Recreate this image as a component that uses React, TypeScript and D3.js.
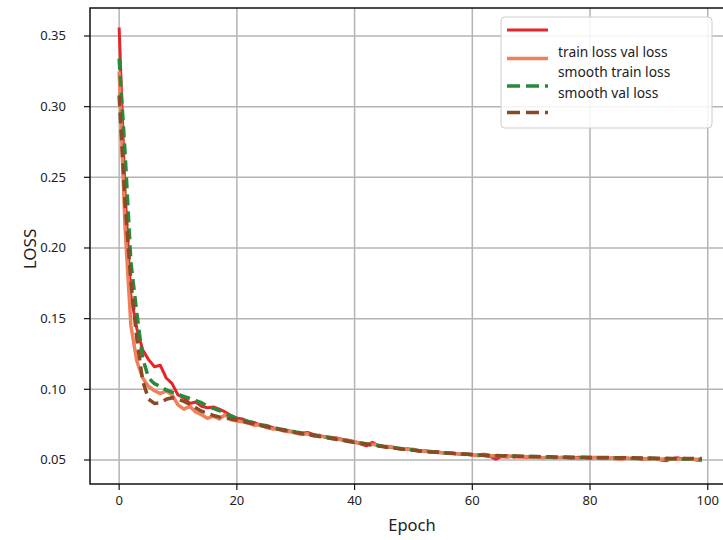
import React from "react";
import * as d3 from "d3";

const trainLoss = [
  0.356, 0.240, 0.166, 0.143, 0.128, 0.121, 0.116, 0.117, 0.108, 0.104,
  0.096, 0.094, 0.090, 0.091, 0.088, 0.087, 0.0875, 0.086, 0.084, 0.0815,
  0.0795, 0.0790, 0.0770, 0.0765, 0.0745, 0.0745, 0.0730, 0.0715, 0.0715, 0.0705,
  0.0695, 0.0690, 0.0695, 0.0680, 0.0670, 0.0665, 0.0660, 0.0655, 0.0645, 0.0640,
  0.0625, 0.0615, 0.0600, 0.0625, 0.0600, 0.0595, 0.0590, 0.0585, 0.0575, 0.0580,
  0.0570, 0.0565, 0.0565, 0.0555, 0.0560, 0.0550, 0.0550, 0.0545, 0.0540, 0.0540,
  0.0535, 0.0535, 0.0530, 0.0525, 0.0505, 0.0525, 0.0530, 0.0520, 0.0525, 0.0520,
  0.0520, 0.0525, 0.0515, 0.0520, 0.0515, 0.0520, 0.0515, 0.0510, 0.0520, 0.0515,
  0.0510, 0.0520, 0.0515, 0.0510, 0.0515, 0.0505, 0.0515, 0.0510, 0.0510, 0.0505,
  0.0515, 0.0510, 0.0500, 0.0495, 0.0510, 0.0515, 0.0505, 0.0510, 0.0500, 0.0495,
];

const valLoss = [
  0.325, 0.215, 0.145, 0.120, 0.108, 0.102, 0.099, 0.097, 0.099, 0.096,
  0.089, 0.086, 0.088, 0.084, 0.082, 0.0795, 0.081, 0.079, 0.082, 0.0785,
  0.0775, 0.0770, 0.0760, 0.0745, 0.0750, 0.0730, 0.0720, 0.0720, 0.0705, 0.0700,
  0.0690, 0.0680, 0.0685, 0.0670, 0.0675, 0.0660, 0.0655, 0.0650, 0.0640, 0.0635,
  0.0630, 0.0620, 0.0615, 0.0610, 0.0605, 0.0595, 0.0595, 0.0585, 0.0580, 0.0575,
  0.0575, 0.0565, 0.0560, 0.0560, 0.0555, 0.0550, 0.0550, 0.0545, 0.0540, 0.0545,
  0.0535, 0.0530, 0.0540, 0.0530, 0.0530, 0.0525, 0.0520, 0.0530, 0.0520, 0.0525,
  0.0520, 0.0520, 0.0515, 0.0520, 0.0515, 0.0515, 0.0520, 0.0515, 0.0510, 0.0515,
  0.0520, 0.0515, 0.0510, 0.0515, 0.0510, 0.0505, 0.0510, 0.0510, 0.0515, 0.0510,
  0.0505, 0.0510, 0.0505, 0.0510, 0.0505, 0.0505, 0.0510, 0.0505, 0.0505, 0.0500,
];

const smoothTrainLoss = [
  0.334, 0.268, 0.190, 0.154, 0.122, 0.108, 0.104, 0.102, 0.0995, 0.098,
  0.0965, 0.095, 0.0935, 0.092, 0.0905, 0.088, 0.0865, 0.085, 0.083, 0.081,
  0.0795, 0.0784, 0.0772, 0.0761, 0.0750, 0.0740, 0.0731, 0.0722, 0.0714, 0.0706,
  0.0698, 0.0691, 0.0684, 0.0677, 0.0670, 0.0663, 0.0656, 0.0649, 0.0642, 0.0635,
  0.0628, 0.0621, 0.0614, 0.0608, 0.0602, 0.0596, 0.0590, 0.0585, 0.0580, 0.0575,
  0.0570, 0.0566, 0.0562, 0.0558, 0.0555, 0.0552, 0.0549, 0.0546, 0.0543, 0.0540,
  0.0538, 0.0536, 0.0534, 0.0532, 0.0530, 0.0529, 0.0528, 0.0527, 0.0526, 0.0525,
  0.0524, 0.0523, 0.0522, 0.0521, 0.0520, 0.0520, 0.0519, 0.0518, 0.0518, 0.0517,
  0.0516, 0.0516, 0.0515, 0.0514, 0.0514, 0.0513, 0.0513, 0.0512, 0.0511, 0.0511,
  0.0510, 0.0510, 0.0509, 0.0509, 0.0508, 0.0508, 0.0507, 0.0507, 0.0506, 0.0506,
];

const smoothValLoss = [
  0.308, 0.232, 0.176, 0.136, 0.106, 0.093, 0.090, 0.0905, 0.093, 0.094,
  0.093, 0.0915, 0.0895, 0.087, 0.0845, 0.083, 0.0815, 0.0805, 0.0798, 0.079,
  0.0782, 0.0773, 0.0763, 0.0753, 0.0744, 0.0735, 0.0726, 0.0718, 0.0710, 0.0702,
  0.0694, 0.0687, 0.0680, 0.0673, 0.0666, 0.0659, 0.0652, 0.0645, 0.0638, 0.0631,
  0.0624, 0.0617, 0.0611, 0.0605, 0.0599, 0.0593, 0.0587, 0.0582, 0.0577, 0.0572,
  0.0568, 0.0564, 0.0560, 0.0557, 0.0554, 0.0551, 0.0548, 0.0545, 0.0542, 0.0540,
  0.0538, 0.0536, 0.0534, 0.0532, 0.0531, 0.0530, 0.0529, 0.0528, 0.0527, 0.0526,
  0.0525, 0.0524, 0.0523, 0.0522, 0.0521, 0.0521, 0.0520, 0.0520, 0.0519, 0.0519,
  0.0518, 0.0518, 0.0517, 0.0517, 0.0516, 0.0516, 0.0515, 0.0515, 0.0514, 0.0514,
  0.0513, 0.0513, 0.0512, 0.0512, 0.0511, 0.0511, 0.0511, 0.0510, 0.0510, 0.0510,
];

const xTicks = [0, 20, 40, 60, 80, 100];
const yTicks = [0.05, 0.1, 0.15, 0.2, 0.25, 0.3, 0.35];
const legendLabels = ["train loss val loss", "smooth train loss", "smooth val loss"];

const W = 723;
const H = 540;
const FONT = "'Noto Sans', 'DejaVu Sans', sans-serif";

export default function App() {
  const left = 90, top = 8, bottom = 484, right = 731;
  const x = d3.scaleLinear().domain([-4.95, 103.95]).range([left, right]);
  const y = d3.scaleLinear().domain([0.033, 0.3698]).range([bottom, top]);

  const mk = (arr: number[]) =>
    d3.line<number>().x((_, i) => x(i)).y((d) => y(d))(arr) || "";

  const series = [
    { data: trainLoss, color: "#e3262a", width: 3, dash: undefined },
    { data: valLoss, color: "#f0805c", width: 3.5, dash: undefined },
    { data: smoothTrainLoss, color: "#2a8a3c", width: 3.5, dash: "11,6" },
    { data: smoothValLoss, color: "#8b4a26", width: 3.5, dash: "11,6" },
  ];

  const legendHandleY = [30, 58.5, 86, 112.5];
  const legendTextY = [57, 77, 98];

  return (
    <svg
      width={W}
      height={H}
      style={{ position: "absolute", left: 0, top: 0, background: "#fff" }}
      fontFamily={FONT}
    >
      <defs>
        <clipPath id="plotclip">
          <rect x={left} y={top} width={right - left} height={bottom - top} />
        </clipPath>
      </defs>
      <rect x={0} y={0} width={W} height={H} fill="#fff" />
      {xTicks.map((t) => (
        <line key={"gx" + t} x1={x(t)} x2={x(t)} y1={top} y2={bottom} stroke="#b4b4b4" strokeWidth={1.5} />
      ))}
      {yTicks.map((t) => (
        <line key={"gy" + t} x1={left} x2={right} y1={y(t)} y2={y(t)} stroke="#b4b4b4" strokeWidth={1.5} />
      ))}
      <g clipPath="url(#plotclip)">
        {series.map((s, i) => (
          <path
            key={i}
            d={mk(s.data)}
            fill="none"
            stroke={s.color}
            strokeWidth={s.width}
            strokeDasharray={s.dash}
            strokeLinejoin="round"
          />
        ))}
      </g>
      <rect x={left} y={top} width={right - left} height={bottom - top} fill="none" stroke="#111" strokeWidth={1.5} />
      {xTicks.map((t) => (
        <g key={"xt" + t}>
          <line x1={x(t)} x2={x(t)} y1={bottom} y2={bottom + 6} stroke="#111" strokeWidth={1.2} />
          <text x={x(t)} y={505} textAnchor="middle" fontSize={13} fill="#222">
            {t}
          </text>
        </g>
      ))}
      {yTicks.map((t) => (
        <g key={"yt" + t}>
          <line x1={left - 6} x2={left} y1={y(t)} y2={y(t)} stroke="#111" strokeWidth={1.2} />
          <text x={66} y={y(t) + 4.5} textAnchor="end" fontSize={13} fill="#222">
            {t.toFixed(2)}
          </text>
        </g>
      ))}
      <text x={412} y={531} textAnchor="middle" fontSize={16.5} fill="#222">
        Epoch
      </text>
      <text
        transform={`translate(36,249) rotate(-90)`}
        textAnchor="middle"
        fontSize={17}
        fill="#222"
      >
        LOSS
      </text>
      <rect x={501} y={17} width={211} height={111} rx={4} fill="#fff" fillOpacity={0.85} stroke="#cccccc" strokeWidth={1} />
      {series.map((s, i) => (
        <line
          key={"lh" + i}
          x1={507}
          x2={548}
          y1={legendHandleY[i]}
          y2={legendHandleY[i]}
          stroke={s.color}
          strokeWidth={s.width}
          strokeDasharray={s.dash ? "13,6" : undefined}
        />
      ))}
      {legendLabels.map((l, i) => (
        <text key={"lt" + i} x={558} y={legendTextY[i]} fontSize={13.8} fill="#222">
          {l}
        </text>
      ))}
    </svg>
  );
}
